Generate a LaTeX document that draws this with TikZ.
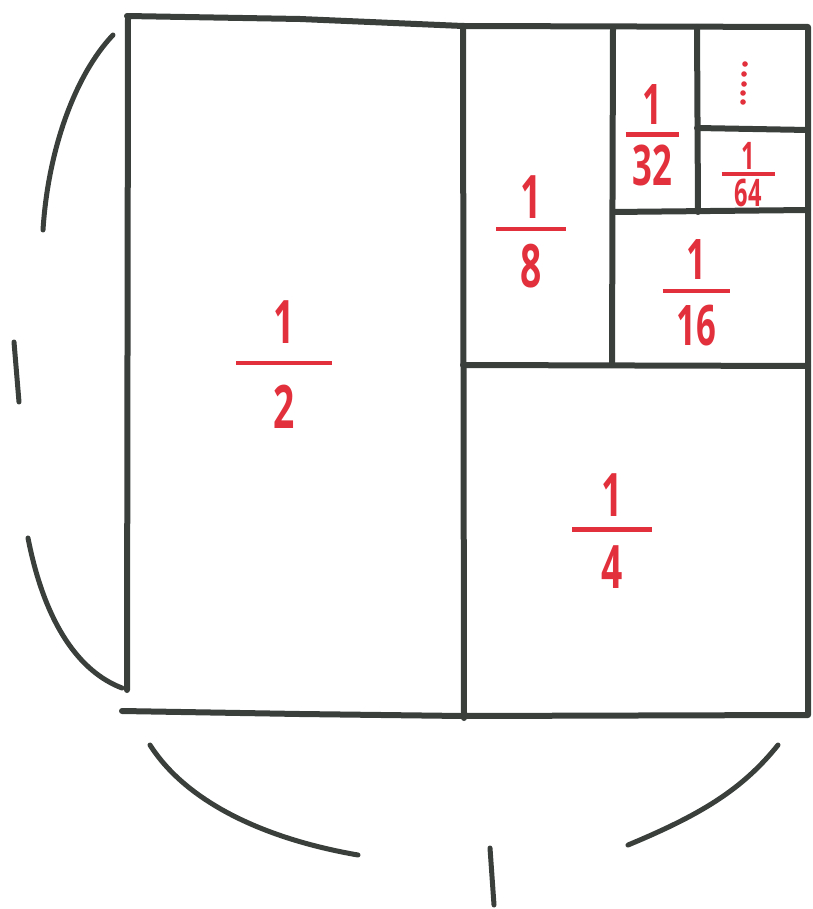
\documentclass[tikz,border=0pt]{standalone}
\usepackage{fontspec}
\setmainfont{Open Sans}
\definecolor{ink}{HTML}{3A3F3C}
\definecolor{redink}{HTML}{E2313C}
\newcommand{\hfrac}[6]{% size, barwidth, num, den, gap1, gap2
  \fontsize{#1}{#1}\selectfont\vbox{\hbox to #2{\hss #3\hss}\kern #5\hrule height 4.5pt\kern #6\hbox to #2{\hss #4\hss}}}
\newcommand{\nd}[1]{\scalebox{0.62}[1]{#1}}
\tikzset{
  wall/.style={ink, line width=6pt, line cap=round, line join=round},
  brace/.style={ink, line width=5pt, line cap=round},
  lab/.style={redink, inner sep=0pt, font=\bfseries},
  dotr/.style={fill=redink, draw=none}
}
\begin{document}
\begin{tikzpicture}[x=1pt,y=-1pt]
\useasboundingbox (0,0) rectangle (812,909);
% outer frame and divisions
\draw[wall] (127,16) -- (300,19) -- (463,26) -- (808,27) -- (808,715) -- (463,716) -- (300,714) -- (122,711);
\draw[wall] (128,18) -- (127,690);
\draw[wall] (463,26) -- (464,718);
\draw[wall] (463,365) -- (808,366);
\draw[wall] (613,27) -- (612,365);
\draw[wall] (613,212) -- (808,210);
\draw[wall] (697,27) -- (698,212);
\draw[wall] (697,128) -- (808,130);
% braces
\draw[brace] (113,35) .. controls (75,75) and (48,150) .. (43,230);
\draw[brace] (28,538) .. controls (45,625) and (80,672) .. (122,688);
\draw[brace] (14,342) -- (19,402);
\draw[brace] (150,745) .. controls (185,800) and (260,838) .. (358,855);
\draw[brace] (628,845) .. controls (700,815) and (742,790) .. (778,745);
\draw[brace] (490,848) -- (494,905);
% labels
\node[lab] (half) at (284,365) {\hfrac{60pt}{96pt}{\nd{1}}{\nd{2}}{17pt}{20pt}};
\node[lab] (quarter) at (612,531) {\hfrac{60pt}{80pt}{\nd{1}}{\nd{4}}{11pt}{14pt}};
\node[lab] (eighth) at (531,232) {\hfrac{60pt}{70pt}{\nd{1}}{\nd{8}}{8pt}{13pt}};
\node[lab] (sixteenth) at (696,293) {\hfrac{56pt}{67pt}{\nd{1}}{\nd{16}}{9pt}{12pt}};
\node[lab] (thirtysecond) at (652,135) {\hfrac{56pt}{53pt}{\nd{1}}{\nd{32}}{8pt}{8pt}};
\node[lab] (sixtyfourth) at (748,175) {\hfrac{38pt}{53pt}{\nd{1}}{\nd{64}}{2pt}{3pt}};
% dots
\foreach \x/\y in {745/64, 744/74, 744/84, 743/93, 743/102}
  \fill[dotr] (\x,\y) circle (2.8pt);
\end{tikzpicture}
\end{document}
